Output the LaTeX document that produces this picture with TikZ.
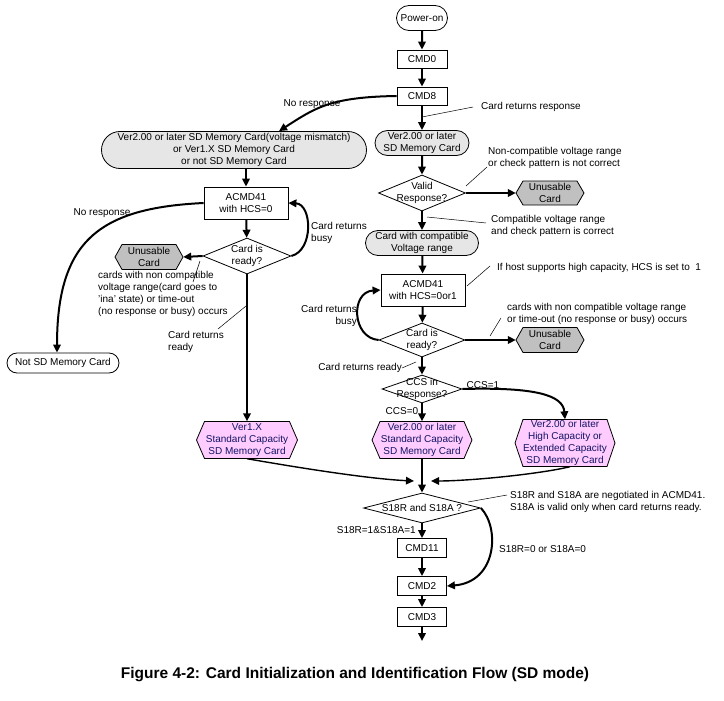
\documentclass[tikz,border=0pt]{standalone}
\usepackage{fontspec}
\setmainfont{Liberation Sans}
\usetikzlibrary{shapes.geometric,shapes.misc,arrows.meta,calc}
\definecolor{termgray}{RGB}{230,230,230}
\definecolor{unusgray}{RGB}{192,192,192}
\definecolor{pinkfill}{RGB}{255,204,255}
\definecolor{navytext}{RGB}{20,20,100}
\tikzset{
 base/.style={font=\fontsize{10}{11.8}\selectfont, inner sep=0pt, align=center},
 proc/.style={base, draw, line width=0.8pt, fill=white, rectangle},
 term/.style={base, draw, line width=0.8pt, rounded rectangle},
 decis/.style={draw, line width=0.8pt, diamond, fill=white, inner sep=0pt},
 note/.style={font=\fontsize{10}{12}\selectfont, inner sep=0pt, align=left},
 flow/.style={line width=2pt, -{Triangle[length=8pt,width=7.5pt]}},
 thinflow/.style={line width=1.4pt, -{Triangle[length=8pt,width=7.5pt]}},
 leader/.style={line width=0.5pt},
}
\newcommand\hexnode[9]{%
 \filldraw[fill=#7, draw=black, line width=0.8pt] (#2-#4,#3) -- (#2-#4+#6,#3-#5) -- (#2+#4-#6,#3-#5) -- (#2+#4,#3) -- (#2+#4-#6,#3+#5) -- (#2-#4+#6,#3+#5) -- cycle;
 \node[base, text=#8, minimum width=2*#4, minimum height=2*#5] (#1) at (#2,#3) {#9};}
\begin{document}
\begin{tikzpicture}[x=1pt,y=-1pt]
\useasboundingbox (0,0) rectangle (724,701);
% main column
\node[term, minimum width=51, minimum height=25] (pwr) at (422,18) {Power-on};
\node[proc, minimum width=50, minimum height=18] (cmd0) at (422,59) {CMD0};
\node[proc, minimum width=50, minimum height=18] (cmd8) at (422,96) {CMD8};
\node[term, fill=termgray, minimum width=94, minimum height=25] (v2) at (422,143) {Ver2.00 or later\\SD Memory Card};
\node[decis, minimum width=87, minimum height=36] (valid) at (422,193) {};
\node[base] (validT) at (422,193) {Valid\\Response?};
\hexnode{un1}{550}{193}{34}{12}{7}{unusgray}{black}{Unusable\\Card}
\node[term, fill=termgray, minimum width=113, minimum height=25] (compat) at (422,243) {Card with compatible\\Voltage range};
\node[proc, minimum width=84, minimum height=32] (acmdR) at (423,290) {ACMD41\\with HCS=0or1};
\node[decis, minimum width=86, minimum height=34] (rdyR) at (422,340) {};
\node[base] (rdyRT) at (422,340) {Card is\\ready?};
\hexnode{un2}{550}{340}{34}{12.5}{7}{unusgray}{black}{Unusable\\Card}
\node[decis, minimum width=80, minimum height=28] (ccs) at (422,389) {};
\node[base] (ccsT) at (422,389) {CCS in\\Response?};
\hexnode{v2std}{422}{440}{50}{18.5}{8}{pinkfill}{navytext}{Ver2.00 or later\\Standard Capacity\\SD Memory Card}
\hexnode{v2hc}{565}{443}{50}{23.5}{8}{pinkfill}{navytext}{Ver2.00 or later\\High Capacity or\\Extended Capacity\\SD Memory Card}
\hexnode{ver1x}{247}{440}{50.5}{18.5}{8}{pinkfill}{navytext}{Ver1.X\\Standard Capacity\\SD Memory Card}
\node[decis, minimum width=117, minimum height=30] (s18) at (422,508) {};
\node[base] (s18T) at (422,508) {S18R and S18A ?};
\node[proc, minimum width=49, minimum height=19] (cmd11) at (422,548) {CMD11};
\node[proc, minimum width=49, minimum height=19] (cmd2) at (422,586) {CMD2};
\node[proc, minimum width=49, minimum height=19] (cmd3) at (422,617) {CMD3};
\coordinate (endp) at (422,641);
% left column
\node[term, fill=termgray, minimum width=265, minimum height=37] (lbig) at (234,150) {Ver2.00 or later SD Memory Card(voltage mismatch)\\or Ver1.X SD Memory Card\\or not SD Memory Card};
\node[proc, minimum width=84, minimum height=32] (acmdL) at (246,203) {ACMD41\\with HCS=0};
\node[decis, minimum width=88, minimum height=36] (rdyL) at (247,256) {};
\node[base] (rdyLT) at (247,256) {Card is\\ready?};
\hexnode{unL}{149}{257}{34}{12.5}{7}{unusgray}{black}{Unusable\\Card}
\node[term, minimum width=112, minimum height=20] (notsd) at (63,363) {Not SD Memory Card};
% flows
\draw[flow] (pwr) -- (cmd0);
\draw[flow] (cmd0) -- (cmd8);
\draw[flow] (cmd8) -- (v2);
\draw[flow] (v2) -- (valid);
\draw[flow] (valid) -- (compat);
\draw[flow] (valid.east) -- (un1.west);
\draw[flow] (compat) -- (acmdR);
\draw[flow] (acmdR) -- (rdyR);
\draw[flow] (rdyR.east) -- (un2.west);
\draw[flow] (rdyR.west) .. controls (352,338) and (350,292) .. (acmdR.west);
\draw[flow] (rdyR) -- (ccs);
\draw[flow] (ccs) -- (v2std);
\draw[flow] (ccs.east) .. controls (535,387) and (563,395) .. (v2hc.north);
\draw[flow] (v2std) -- (s18);
\coordinate (mL) at (414,481);
\coordinate (mR) at (431,481);
\draw[thinflow] (ver1x.south) .. controls (300,468) and (370,479) .. (mL);
\draw[thinflow] ([xshift=5]v2hc.south) .. controls (540,474) and (470,481) .. (mR);
\draw[flow] (s18) -- (cmd11);
\draw[flow] (cmd11) -- (cmd2);
\draw[flow] (cmd2) -- (cmd3);
\draw[flow] (cmd3) -- (endp);
\draw[flow] (s18.east) .. controls (500,528) and (497,582) .. (cmd2.east);
\draw[flow] (cmd8.west) .. controls (330,97) and (315,108) .. ([xshift=45]lbig.north);
\draw[flow] (acmdL |- lbig.south) -- (acmdL.north);
\draw[flow] (acmdL) -- (rdyL);
\draw[flow] (rdyL.west) -- (unL.east);
\draw[flow] (rdyL.east) .. controls (314,250) and (312,204) .. (acmdL.east);
\draw[flow] (acmdL.west) .. controls (100,208) and (57,240) .. ([xshift=-6]notsd.north);
\draw[flow] (rdyL) -- (ver1x);
% labels and leaders
\node[note] (nr1) at (312,104) {No response};
\node[note, anchor=west] (crr) at (481,107) {Card returns response};
\draw[leader] (422,117) -- ([xshift=-8]crr.west);
\node[note, anchor=west] (ncv) at (488,157.5) {Non-compatible voltage range\\or check pattern is not correct};
\draw[leader] (466,186) -- (487,167);
\node[note, anchor=west] (cvr) at (491,225.5) {Compatible voltage range\\and check pattern is correct};
\draw[leader] (427,217) -- (486,223);
\node[note, anchor=west] (hcs) at (497,268) {If host supports high capacity, HCS is set to\ \ 1};
\draw[leader] (467,286) -- (490,266);
\node[note, anchor=west] (tor) at (507,313.5) {cards with non compatible voltage range\\or time-out (no response or busy) occurs};
\draw[leader] (490,336) -- (501,318);
\node[note, anchor=east, align=right] (crbR) at (357,316) {Card returns\\busy};
\node[note, anchor=east] (crrR) at (402,368) {Card returns ready};
\draw[leader] (crrR.east) -- (416,362);
\node[note] (ccs1) at (483,385) {CCS=1};
\node[note] (ccs0) at (402,411) {CCS=0};
\node[note, anchor=west] (crbL) at (311,232.5) {Card returns\\busy};
\node[note] (nr2) at (102,213) {No response};
\node[note, anchor=north west] (ncL) at (98,271) {cards with non compatible\\voltage range(card goes to\\'ina' state) or time-out\\(no response or busy) occurs};
\draw[leader] (193,282) -- (200,261);
\node[note, anchor=west] (crrL) at (168,341.5) {Card returns\\ready};
\draw[leader] (218,329) -- (246,306);
\node[note, anchor=west] (s18n) at (510,501.5) {S18R and S18A are negotiated in ACMD41.\\S18A is valid only when card returns ready.};
\draw[leader] (468,502) -- (507,495);
\node[note, anchor=east] (s11) at (416,530) {S18R=1\&S18A=1};
\node[note, anchor=west] (s00) at (499,549) {S18R=0 or S18A=0};
\node[font=\fontsize{15.5}{18}\selectfont\bfseries, inner sep=0pt] (cap) at (355,675) {Figure 4-2: Card Initialization and Identification Flow (SD mode)};
\end{tikzpicture}
\end{document}
